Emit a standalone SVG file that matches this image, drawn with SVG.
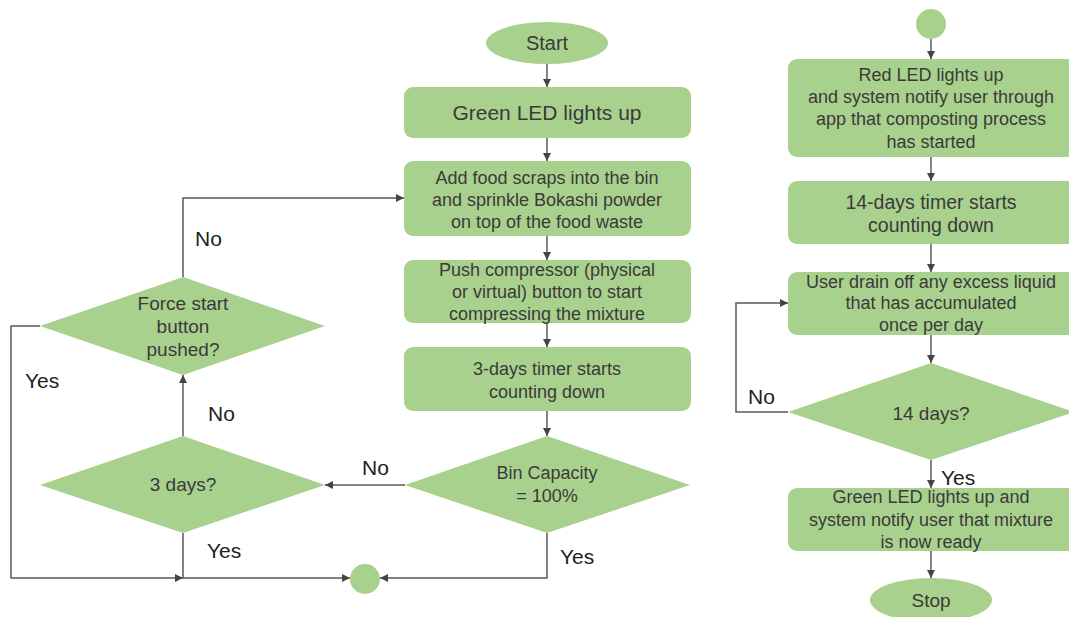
<svg xmlns="http://www.w3.org/2000/svg" width="1069" height="617" viewBox="0 0 1069 617">
<defs>
<style>
.n{fill:#a9d18e;stroke:none}
.t{font-family:"Liberation Sans",Arial,sans-serif;fill:#3a3a3a;text-anchor:middle;font-size:18px}
.l{font-family:"Liberation Sans",Arial,sans-serif;fill:#222;font-size:21px}
.c{fill:none;stroke:#5a5a5a;stroke-width:1.5}
</style>
<marker id="a" viewBox="0 0 10 10" refX="10" refY="5" markerWidth="8" markerHeight="8" markerUnits="userSpaceOnUse" orient="auto">
<path d="M0,0 L10,5 L0,10 z" fill="#444"/>
</marker>
</defs>
<rect width="1069" height="617" fill="#fff"/>

<g id="start"><ellipse class="n" cx="547" cy="43" rx="61" ry="21"/><text class="t" x="547" y="50" style="font-size:20px">Start</text></g>
<g id="greenled"><rect class="n" x="404" y="87" width="287" height="51" rx="9"/><text class="t" x="547" y="120" style="font-size:21px">Green LED lights up</text></g>
<g id="addfood"><rect class="n" x="404" y="161" width="287" height="75" rx="9"/>
<text class="t" x="547" y="184">Add food scraps into the bin</text>
<text class="t" x="547" y="206">and sprinkle Bokashi powder</text>
<text class="t" x="547" y="228">on top of the food waste</text></g>
<g id="push"><rect class="n" x="404" y="260" width="287" height="63" rx="9"/>
<text class="t" x="547" y="276">Push compressor (physical</text>
<text class="t" x="547" y="298">or virtual) button to start</text>
<text class="t" x="547" y="320">compressing the mixture</text></g>
<g id="timer3"><rect class="n" x="404" y="347" width="287" height="64" rx="9"/>
<text class="t" x="547" y="375">3-days timer starts</text>
<text class="t" x="547" y="398">counting down</text></g>
<g id="bin"><polygon class="n" points="547,436 690,485 547,533 405,485"/>
<text class="t" x="547" y="479">Bin Capacity</text>
<text class="t" x="547" y="502">= 100%</text></g>
<g id="days3"><polygon class="n" points="183,436 325,485 183,533 40,485"/>
<text class="t" x="183" y="491" style="font-size:19px">3 days?</text></g>
<g id="force"><polygon class="n" points="183,277 325,326 183,375 40,326"/>
<text class="t" x="183" y="310" style="font-size:19px">Force start</text>
<text class="t" x="183" y="333" style="font-size:19px">button</text>
<text class="t" x="183" y="356" style="font-size:19px">pushed?</text></g>
<g id="join"><circle class="n" cx="365" cy="579" r="15"/></g>

<g id="top2"><circle class="n" cx="931" cy="24" r="15"/></g>
<g id="redled"><rect class="n" x="788" y="59" width="290" height="98" rx="9"/>
<text class="t" x="931" y="81">Red LED lights up</text>
<text class="t" x="931" y="103">and system notify user through</text>
<text class="t" x="931" y="125">app that composting process</text>
<text class="t" x="931" y="148">has started</text></g>
<g id="timer14"><rect class="n" x="788" y="181" width="290" height="63" rx="9"/>
<text class="t" x="931" y="209" style="font-size:19.5px">14-days timer starts</text>
<text class="t" x="931" y="232" style="font-size:19.5px">counting down</text></g>
<g id="drain"><rect class="n" x="788" y="272" width="290" height="63" rx="9"/>
<text class="t" x="931" y="288">User drain off any excess liquid</text>
<text class="t" x="931" y="309">that has accumulated</text>
<text class="t" x="931" y="331">once per day</text></g>
<g id="days14"><polygon class="n" points="931,363 1074,412 931,460 788,412"/>
<text class="t" x="931" y="420" style="font-size:19px">14 days?</text></g>
<g id="ready"><rect class="n" x="788" y="488" width="290" height="63" rx="9"/>
<text class="t" x="931" y="503">Green LED lights up and</text>
<text class="t" x="931" y="526">system notify user that mixture</text>
<text class="t" x="931" y="548">is now ready</text></g>
<g id="stop"><ellipse class="n" cx="931" cy="600" rx="61" ry="22"/><text class="t" x="931" y="607" style="font-size:19px">Stop</text></g>

<g id="connectors">
<path class="c" marker-end="url(#a)" d="M547,64 V87"/>
<path class="c" marker-end="url(#a)" d="M547,138 V161"/>
<path class="c" marker-end="url(#a)" d="M547,236 V260"/>
<path class="c" marker-end="url(#a)" d="M547,323 V347"/>
<path class="c" marker-end="url(#a)" d="M547,411 V436"/>
<path class="c" marker-end="url(#a)" d="M405,485 H325"/>
<path class="c" marker-end="url(#a)" d="M547,533 V578 H380"/>
<path class="c" marker-end="url(#a)" d="M183,436 V375"/>
<path class="c" marker-end="url(#a)" d="M183,277 V198 H404"/>
<path class="c" marker-end="url(#a)" d="M40,326 H11 V578 H183"/>
<path class="c" marker-end="url(#a)" d="M183,533 V578 H350"/>
<path class="c" marker-end="url(#a)" d="M931,39 V59"/>
<path class="c" marker-end="url(#a)" d="M931,157 V181"/>
<path class="c" marker-end="url(#a)" d="M931,244 V272"/>
<path class="c" marker-end="url(#a)" d="M931,335 V363"/>
<path class="c" marker-end="url(#a)" d="M788,412 H736 V303 H788"/>
<path class="c" marker-end="url(#a)" d="M931,460 V488"/>
<path class="c" marker-end="url(#a)" d="M931,551 V578"/>
<text class="l" x="362" y="475">No</text>
<text class="l" x="560" y="564">Yes</text>
<text class="l" x="208" y="421">No</text>
<text class="l" x="195" y="246">No</text>
<text class="l" x="25" y="388">Yes</text>
<text class="l" x="207" y="558">Yes</text>
<text class="l" x="748" y="404">No</text>
<text class="l" x="941" y="485">Yes</text>
</g>
</svg>
